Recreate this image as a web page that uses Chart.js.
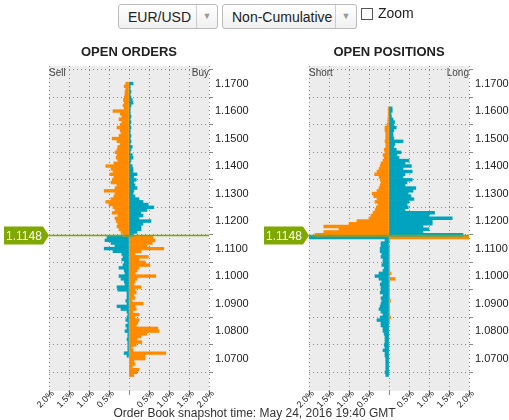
<!DOCTYPE html>
<html><head><meta charset="utf-8">
<script src="https://cdn.jsdelivr.net/npm/chart.js@4"></script>
<style>
body{margin:0;width:509px;height:420px;position:relative;font-family:"Liberation Sans",Arial,sans-serif;background:#fff;overflow:hidden}
canvas{position:absolute;top:0}
.t{position:absolute;z-index:2;color:#333}
.sel{position:absolute;top:4px;height:25px;border:1px solid #bbb;border-radius:3px;background:linear-gradient(#fff,#f0f0f0);font-size:14px;line-height:25px;color:#222;box-sizing:border-box}
.sel span.a{position:absolute;right:0;top:0;width:20px;height:23px;border-left:1px solid #ccc;color:#999;font-size:9px;text-align:center;line-height:23px}
</style></head><body>
<div class="sel" style="left:118px;width:100px;padding-left:9px">EUR/USD<span class="a">▼</span></div>
<div class="sel" style="left:222px;width:135px;padding-left:9px">Non-Cumulative<span class="a">▼</span></div>
<div class="t" style="left:361px;top:8px;width:12px;height:12px;border:1px solid #555;box-sizing:border-box"></div>
<div class="t" style="left:378px;top:5px;font-size:14px;color:#222">Zoom</div>
<div class="t" style="left:29px;width:200px;text-align:center;top:44px;font-size:13px;font-weight:bold;color:#222">OPEN ORDERS</div>
<div class="t" style="left:289px;width:200px;text-align:center;top:44px;font-size:13px;font-weight:bold;color:#222">OPEN POSITIONS</div>
<div class="t" style="left:49px;top:67px;font-size:10px;color:#444">Sell</div>
<div class="t" style="left:169px;width:40px;text-align:right;top:67px;font-size:10px;color:#444">Buy</div>
<div class="t" style="left:309px;top:67px;font-size:10px;color:#444">Short</div>
<div class="t" style="left:409px;width:60px;text-align:right;top:67px;font-size:10px;color:#444">Long</div>
<div class="t" style="left:0;width:509px;text-align:center;top:406px;font-size:12px;color:#333">Order Book snapshot time: May 24, 2016 19:40 GMT</div>
<canvas id="c1" width="255" height="420" style="left:0;width:255px;height:420px"></canvas>
<canvas id="c2" width="249" height="420" style="left:260px;width:249px;height:420px"></canvas>
<script>
const currentPrice = 1.1148;
const pricesAbove = []; for (let i = 0; i < 56; i++) pricesAbove.push(+(1.170 - i*0.001).toFixed(3));
const pricesBelow = []; for (let i = 0; i < 51; i++) pricesBelow.push(+(1.114 - i*0.001).toFixed(3));
const xTicks = [-2,-1.5,-1,-0.5,0,0.5,1,1.5,2];

// OPEN ORDERS
const ordersSellAbove = [0.08,0.12,0.08,0.10,0.10,0.12,0.14,0.12,0.15,0.12,0.40,0.22,0.18,0.25,0.18,0.22,0.30,0.22,0.20,0.25,0.42,0.30,0.22,0.28,0.30,0.35,0.30,0.32,0.28,0.38,0.58,0.45,0.40,0.48,0.38,0.42,0.45,0.30,0.35,0.62,0.35,0.38,0.45,0.58,0.50,0.40,0.35,0.42,0.28,0.35,0.32,0.28,0.30,0.25,0.20,0.15];
const ordersBuyAbove = [0.10,0.03,0.03,0.05,0.03,0.05,0.08,0.10,0.05,0.03,0.03,0.03,0.05,0.03,0.05,0.03,0.05,0.03,0.03,0.05,0.03,0.05,0.03,0.08,0.05,0.03,0.08,0.10,0.05,0.03,0.08,0.10,0.10,0.20,0.12,0.18,0.12,0.15,0.20,0.12,0.10,0.15,0.25,0.35,0.48,0.62,0.45,0.30,0.35,0.25,0.55,0.35,0.30,0.30,0.20,0.10];
const ordersBuyBelow = [0.55,0.60,0.45,0.35,0.62,0.40,0.18,0.15,0.18,0.12,0.15,0.25,0.12,0.10,0.25,0.20,0.12,0.10,0.30,0.28,0.05,0.05,0.05,0.08,0.05,0.30,0.20,0.05,0.03,0.05,0.08,0.03,0.08,0.05,0.10,0.03,0.03,0.05,0.03,0.03,0.03,0.03,0.12,0.05,0,0,0,0,0,0,0];
const ordersSellBelow = [0.60,0.65,0.58,0.45,0.87,0.30,0.15,0.48,0.25,0.40,0.52,0.25,0.20,0.15,0.67,0.20,0.15,0.12,0.30,0.15,0.18,0.12,0.15,0.08,0.35,0.15,0.18,0.10,0.25,0.15,0.25,0.22,0.18,0.72,0.75,0.45,0.30,0.20,0.32,0.18,0.08,0.10,0.92,0.40,0.40,0.12,0.15,0.08,0.25,0.20,0.12];

// OPEN POSITIONS
const posShortAbove = [0,0,0,0,0,0,0,0,0,0.02,0.02,0.02,0.02,0.03,0.03,0.05,0.10,0.10,0.08,0.08,0.08,0.10,0.08,0.08,0.12,0.10,0.15,0.12,0.15,0.20,0.22,0.25,0.30,0.36,0.25,0.22,0.20,0.22,0.25,0.30,0.42,0.38,0.30,0.35,0.28,0.32,0.35,0.40,0.45,0.50,0.80,1.00,1.63,1.25,1.63,1.85];
const posLongAbove = [0,0,0,0,0,0,0,0,0,0.08,0.08,0.05,0.06,0.10,0.14,0.12,0.18,0.12,0.10,0.10,0.12,0.35,0.15,0.12,0.18,0.30,0.20,0.25,0.50,0.40,0.56,0.35,0.58,0.40,0.35,0.58,0.45,0.40,0.67,0.60,0.48,0.55,0.62,0.50,0.45,0.48,0.40,1.14,1.00,1.58,1.08,1.08,0.85,1.00,0.85,1.85];
const posLongBelow = [2.0,0.10,0.20,0.20,0.22,0.22,0.18,0.20,0.15,0.15,0.18,0.12,0.15,0.25,0.35,0.25,0.18,0.22,0.20,0.20,0.22,0.15,0.20,0.18,0.20,0.22,0.25,0.20,0.15,0.22,0.30,0.20,0.20,0.15,0.15,0.12,0.10,0.10,0.10,0.12,0.10,0.15,0.10,0.10,0.08,0.08,0.08,0.08,0.08,0.10,0.08,0.10];
const posShortBelow = [2.0,0.02,0,0.01,0.01,0.01,0.01,0.02,0.01,0.01,0.02,0.02,0.01,0.05,0.02,0.15,0.02,0.01,0.01,0.01,0.01,0.01,0.02,0.04,0.01,0.01,0.02,0.01,0.02,0.04,0.02,0.01,0,0,0,0,0,0,0,0,0,0,0,0,0,0,0,0,0,0,0];

const ORANGE = '#ff8a00', BLUE = '#00a3bd';
function pts(prices, vals, sign){ return prices.map((p,i)=>({y:p, x: vals[i] ? sign*vals[i] : null})); }
function ds(prices, vals, sign, color){
  return {data:pts(prices,vals,sign), backgroundColor:color, borderWidth:0, barPercentage:1, categoryPercentage:1, grouped:false};
}
const pricePlugin = {
  id:'price',
  beforeDraw(c){ const a=c.chartArea, ctx=c.ctx; ctx.save(); ctx.fillStyle='#ececec'; ctx.fillRect(a.left,a.top,a.right-a.left,a.bottom-a.top); ctx.restore(); },
  afterDatasetsDraw(c){
    const a=c.chartArea, ctx=c.ctx, y=c.scales.y.getPixelForValue(currentPrice);
    ctx.save();
    ctx.strokeStyle='#7fa800'; ctx.lineWidth=1.5;
    ctx.beginPath(); ctx.moveTo(a.left,y); ctx.lineTo(a.right,y); ctx.stroke();
    ctx.fillStyle='#7fa800';
    ctx.beginPath(); ctx.moveTo(a.left-45,y-9); ctx.lineTo(a.left-6,y-9); ctx.lineTo(a.left,y); ctx.lineTo(a.left-6,y+9); ctx.lineTo(a.left-45,y+9); ctx.closePath(); ctx.fill();
    ctx.fillStyle='#fff'; ctx.font='12px "Liberation Sans", Arial'; ctx.textBaseline='middle'; ctx.textAlign='left';
    ctx.fillText(currentPrice.toFixed(4), a.left-43, y+1);
    ctx.restore();
  },
  afterDraw(c){
    const ctx=c.ctx, xs=c.scales.x, b=c.chartArea.bottom;
    ctx.save(); ctx.fillStyle='#222'; ctx.font='9px "Liberation Sans", Arial'; ctx.textAlign='right'; ctx.textBaseline='middle';
    xTicks.forEach(v=>{ if(v===0) return; const px=xs.getPixelForValue(v);
      ctx.save(); ctx.translate(px+4, b+1); ctx.rotate(-Math.PI/4); ctx.fillText(Math.abs(v).toFixed(1)+'%',0,0); ctx.restore(); });
    ctx.restore();
  }
};
function make(id, d1, d2, d3, d4, yw){
  new Chart(document.getElementById(id), {
    type:'bar',
    data:{datasets:[ds(pricesAbove,d1,-1,ORANGE), ds(pricesAbove,d2,1,BLUE), ds(pricesBelow,d3,-1,BLUE), ds(pricesBelow,d4,1,ORANGE)]},
    options:{
      indexAxis:'y', responsive:false, animation:false, devicePixelRatio:1,
      layout:{padding:{left:49, top:66, right:0, bottom:0}},
      plugins:{legend:{display:false}, tooltip:{enabled:false}},
      scales:{
        x:{type:'linear', min:-2, max:2,
           afterBuildTicks(s){ s.ticks = xTicks.map(v=>({value:v})); },
           afterFit(s){ s.height=29; },
           border:{display:false, dash:[1,3]},
           grid:{color:'#888', lineWidth:1, drawTicks:true, tickLength:4, tickColor:'#888'},
           ticks:{display:false}},
        y:{type:'linear', position:'right', min:1.0636, max:1.1710,
           afterBuildTicks(s){ const t=[]; for(let v=1.07; v<=1.17001; v+=0.01) t.push({value:+v.toFixed(2)}); s.ticks=t; },
           afterFit(s){ s.width=yw; },
           border:{display:false, dash:[1,3]},
           grid:{color:'#888', drawTicks:true, tickLength:4, tickColor:'#888'},
           ticks:{color:'#222', font:{size:11, family:'"Liberation Sans", Arial'}, padding:2, callback:v=>v.toFixed(4)}}
      }
    },
    plugins:[pricePlugin]
  });
}
make('c1', ordersSellAbove, ordersBuyAbove, ordersBuyBelow, ordersSellBelow, 46);
make('c2', posShortAbove, posLongAbove, posLongBelow, posShortBelow, 40);
</script>
</body></html>
